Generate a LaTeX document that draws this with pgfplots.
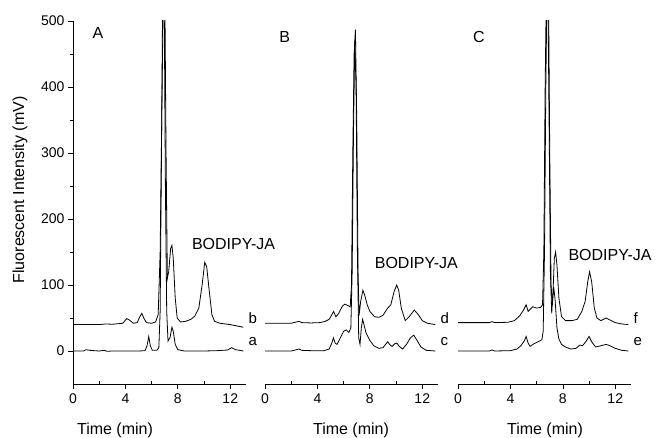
\documentclass[border=0pt]{standalone}
\usepackage{fontspec}
\setmainfont{Liberation Sans}
\usepackage{pgfplots}
\pgfplotsset{compat=1.18}
\tikzset{
  lab/.style={font=\fontsize{16}{18}\selectfont},
  curvelab/.style={font=\fontsize{15}{17}\selectfont, anchor=west, inner sep=1pt},
}
\pgfplotsset{
  panel/.style={
    scale only axis, width=173pt, height=363pt,
    xmin=0, xmax=13.2, ymin=-50, ymax=500,
    anchor=south west, axis x line*=bottom, clip mode=individual,
    xtick={0,4,8,12}, tick align=outside, major tick length=5pt,
    extra x ticks={2,6,10}, extra x tick labels={},
    extra x tick style={tick align=inside, major tick length=3pt},
    tick style={black, line width=0.7pt}, axis line style={black, line width=0.9pt},
    ticklabel style={font=\fontsize{14}{16}\selectfont},
    xticklabel style={yshift=-1pt},
    /pgf/number format/assume math mode=true,
    cycle list={{black, line width=0.8pt, mark=none}},
    every axis plot post/.append style={black, line width=0.8pt, mark=none},
  },
}
\begin{document}
\begin{tikzpicture}
\useasboundingbox (0pt,0pt) rectangle (657pt,438pt);
% ---------------- Panel A
\begin{axis}[panel, at={(73pt,54pt)}, axis y line*=left,
  ytick={0,100,...,500},
  extra y ticks={50,150,250,350,450}, extra y tick labels={},
  extra y tick style={major tick length=3pt, tick align=outside}]
\addplot coordinates {(0,0)(0.8,0)(1.0,2)(1.3,1)(1.6,0.5)(2.0,0)(2.4,1)(2.6,-0.5)(3.0,0)(4.0,0)(5.0,0)(5.5,0.5)(5.65,8)(5.78,22)(5.9,8)(6.05,1)(6.4,1)(6.55,5)(6.65,60)(6.75,300)(6.85,560)(6.95,560)(7.05,250)(7.15,60)(7.25,15)(7.4,20)(7.55,36)(7.65,30)(7.8,10)(8.0,2)(8.5,0)(9,0)(10,0)(11,0.5)(11.8,1.5)(12.1,5)(12.4,2)(13.0,0)};
\addplot coordinates {(0,40)(2,40)(2.5,41)(3,40.5)(3.8,42)(4.1,49)(4.3,47)(4.6,42)(4.9,43)(5.1,52)(5.25,57)(5.4,50)(5.6,43)(6.0,42)(6.3,44)(6.5,55)(6.65,150)(6.8,400)(6.9,560)(7.0,560)(7.1,300)(7.2,110)(7.3,120)(7.45,155)(7.55,160)(7.65,140)(7.8,80)(7.95,50)(8.2,44)(8.6,45)(9.0,48)(9.3,53)(9.6,65)(9.85,100)(10.05,134)(10.2,128)(10.4,90)(10.6,55)(10.8,45)(11.2,42)(12,40)(12.5,38)(13,36)};
\node[lab] at (axis cs:12.25,162) {BODIPY-JA};
\node[lab] at (axis cs:1.9,482) {A};
\node[curvelab] at (axis cs:13.3,50) {b};
\node[curvelab] at (axis cs:13.3,14) {a};
\end{axis}
% ---------------- Panel B
\begin{axis}[panel, at={(265pt,54pt)}, axis y line=none, ytick=\empty]
\addplot coordinates {(0,0)(2.0,0)(2.4,2)(2.6,3)(2.8,1)(3.5,0.5)(4.5,0.5)(4.9,3)(5.1,12)(5.22,20)(5.35,12)(5.5,10)(5.75,20)(6.0,30)(6.2,32)(6.4,28)(6.55,35)(6.65,120)(6.75,330)(6.85,470)(6.95,400)(7.05,150)(7.15,20)(7.25,10)(7.35,35)(7.45,48)(7.55,40)(7.7,28)(8.0,16)(8.3,8)(8.7,4)(9.0,5)(9.2,10)(9.36,14)(9.55,9)(9.7,7)(9.9,11)(10.05,12)(10.25,7)(10.5,3)(10.8,10)(11.1,20)(11.35,24)(11.6,16)(11.9,6)(12.3,1)(13,0)};
\addplot coordinates {(0,42)(2.0,42)(2.4,44)(2.6,45)(2.8,43)(3.5,42.5)(4.2,43)(4.6,45)(4.9,48)(5.1,55)(5.24,60)(5.4,52)(5.6,56)(5.9,68)(6.1,71)(6.3,69)(6.5,67)(6.6,100)(6.7,300)(6.8,450)(6.9,487)(7.0,350)(7.1,120)(7.18,54)(7.3,75)(7.47,92)(7.6,85)(7.8,70)(8.0,60)(8.35,52)(8.7,51)(9.0,54)(9.36,65)(9.6,70)(9.85,90)(10.05,100)(10.2,92)(10.4,65)(10.7,46)(11.0,52)(11.39,62)(11.7,55)(12.0,46)(12.4,42)(13,40)};
\node[lab] at (axis cs:1.5,476) {B};
\node[lab] at (axis cs:11.55,133) {BODIPY-JA};
\node[curvelab] at (axis cs:13.3,50) {d};
\node[curvelab] at (axis cs:13.3,14) {c};
\end{axis}
% ---------------- Panel C
\begin{axis}[panel, at={(458pt,54pt)}, axis y line=none, ytick=\empty]
\addplot coordinates {(0,0)(2.4,0)(2.6,1.5)(2.8,0)(4.0,0.5)(4.5,3)(4.8,8)(5.05,15)(5.2,22)(5.35,12)(5.5,7)(5.8,11)(6.1,14)(6.4,17)(6.5,30)(6.6,150)(6.7,400)(6.8,560)(6.9,560)(7.0,300)(7.1,100)(7.2,70)(7.3,97)(7.4,80)(7.55,35)(7.7,18)(7.9,10)(8.2,6)(8.6,3)(9.0,4)(9.3,9)(9.5,8)(9.75,14)(10.0,22)(10.2,14)(10.5,6)(10.9,8)(11.3,10)(11.6,8)(12.0,4)(12.5,1)(13,0)};
\addplot coordinates {(0,43)(2.4,43)(2.6,44.5)(2.8,43)(3.8,43.5)(4.3,46)(4.7,53)(5.0,62)(5.2,70)(5.35,60)(5.5,63)(5.7,67)(6.0,65)(6.3,66)(6.45,70)(6.55,150)(6.65,400)(6.75,560)(6.85,560)(6.95,350)(7.05,120)(7.15,57)(7.25,90)(7.35,140)(7.45,150)(7.55,130)(7.7,80)(7.9,52)(8.2,46)(8.7,46)(9.1,48)(9.45,60)(9.7,75)(9.9,105)(10.04,120)(10.2,105)(10.4,65)(10.6,50)(10.9,46)(11.3,50)(11.6,47)(12.0,43)(12.5,41)(13,40)};
\node[lab] at (axis cs:1.6,476) {C};
\node[lab] at (axis cs:11.6,145) {BODIPY-JA};
\node[curvelab] at (axis cs:13.3,50) {f};
\node[curvelab] at (axis cs:13.3,14) {e};
\end{axis}
% ---------------- axis titles
\node[lab, rotate=90] at (20pt,248pt) {Fluorescent Intensity (mV)};
\node[lab] at (115pt,8pt) {Time (min)};
\node[lab] at (351pt,8pt) {Time (min)};
\node[lab] at (545pt,8pt) {Time (min)};
\end{tikzpicture}
\end{document}
